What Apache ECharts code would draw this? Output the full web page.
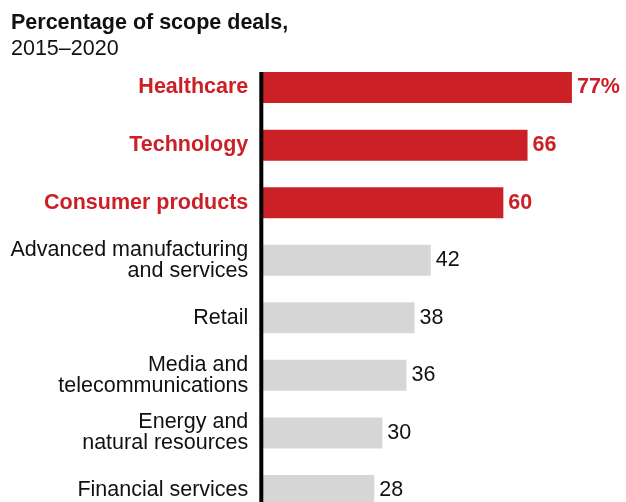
<!DOCTYPE html>
<html>
<head>
<meta charset="utf-8">
<script src="https://cdn.jsdelivr.net/npm/echarts@6/dist/echarts.min.js"></script>
<style>
  html, body { margin: 0; padding: 0; background: #fff; }
  #chart { width: 626px; height: 502px; }
</style>
</head>
<body>
<div id="chart"></div>
<script>
// Share of scope deals by industry, 2015–2020
const categories = [
  'Healthcare',
  'Technology',
  'Consumer products',
  'Advanced manufacturing\nand services',
  'Retail',
  'Media and\ntelecommunications',
  'Energy and\nnatural resources',
  'Financial services'
];
const values = [77, 66, 60, 42, 38, 36, 30, 28];
// Number of leading industries shown in the accent colour
const highlightCount = 3;

const FONT = "'Liberation Sans', Arial, Helvetica, sans-serif";
const FONT_SIZE = 21.5;
const RED = '#cc2027';
const GREY = '#d6d6d6';
const INK = '#111111';
const BAR_WIDTH = 31;

const isHot = i => i < highlightCount;

const chart = echarts.init(document.getElementById('chart'), null, { renderer: 'canvas' });

chart.setOption({
  animation: false,
  backgroundColor: '#ffffff',
  textStyle: { fontFamily: FONT },
  title: {
    left: 11,
    top: 10,
    padding: 0,
    text: '{b|Percentage of scope deals,}\n{r|2015–2020}',
    textStyle: {
      rich: {
        b: { fontFamily: FONT, fontSize: FONT_SIZE, fontWeight: 'bold', color: INK, lineHeight: 26 },
        r: { fontFamily: FONT, fontSize: FONT_SIZE, fontWeight: 'normal', color: INK, lineHeight: 26 }
      }
    }
  },
  grid: {
    left: 261.3,
    top: 58.8,
    width: 355,
    height: 460.4,
    containLabel: false,
    outerBoundsMode: 'none'
  },
  xAxis: {
    type: 'value',
    min: 0,
    max: 88,
    show: false
  },
  yAxis: {
    type: 'category',
    inverse: true,
    data: categories.map((c, i) => ({
      value: c,
      textStyle: isHot(i)
        ? { color: RED, fontWeight: 'bold' }
        : { color: INK, fontWeight: 'normal' }
    })),
    axisLine: { show: false },
    axisTick: { show: false },
    splitLine: { show: false },
    axisLabel: {
      margin: 13,
      fontFamily: FONT,
      fontSize: FONT_SIZE,
      lineHeight: 21,
      align: 'right'
    }
  },
  series: [
    {
      type: 'bar',
      barWidth: BAR_WIDTH,
      data: values.map((v, i) => ({
        value: v,
        itemStyle: { color: isHot(i) ? RED : GREY },
        label: isHot(i)
          ? { color: RED, fontWeight: 'bold' }
          : { color: INK, fontWeight: 'normal' }
      })),
      label: {
        show: true,
        position: 'right',
        distance: 5,
        fontFamily: FONT,
        fontSize: FONT_SIZE,
        formatter: p => p.dataIndex === 0 ? p.value + '%' : String(p.value)
      }
    },
    {
      // Baseline rule, starting at the top edge of the first bar
      type: 'custom',
      z: 10,
      silent: true,
      clip: false,
      data: [[0, 0]],
      renderItem: (params, api) => {
        const first = api.coord([0, 0]);
        const last = api.coord([0, categories.length - 1]);
        const band = api.size([0, 1])[1];
        return {
          type: 'line',
          shape: {
            x1: first[0], y1: first[1] - BAR_WIDTH / 2,
            x2: last[0], y2: last[1] + band / 2
          },
          style: { stroke: '#000000', lineWidth: 4 }
        };
      }
    }
  ]
});
</script>
</body>
</html>
